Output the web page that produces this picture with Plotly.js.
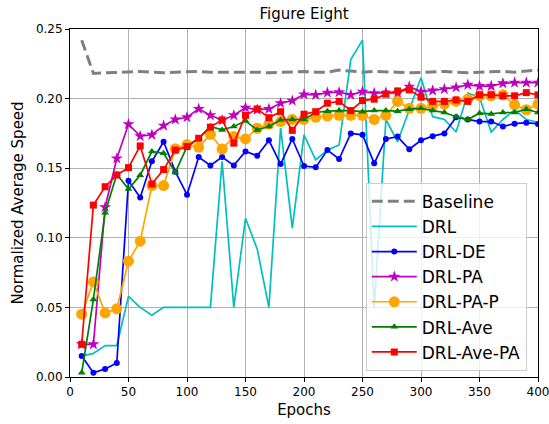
<!DOCTYPE html>
<html>
<head>
<meta charset="utf-8">
<script src="https://cdn.plot.ly/plotly-3.0.1.min.js"></script>
<style>
  html, body { margin: 0; padding: 0; background: #fff; }
  #chart { width: 549px; height: 424px; }
</style>
</head>
<body>
<div id="chart"></div>
<script>
const epochs = [10, 20, 30, 40, 50, 60, 70, 80, 90, 100,
  110, 120, 130, 140, 150, 160, 170, 180, 190, 200,
  210, 220, 230, 240, 250, 260, 270, 280, 290, 300,
  310, 320, 330, 340, 350, 360, 370, 380, 390, 400];

const baseline = [0.242, 0.218, 0.2185, 0.219, 0.219, 0.2195, 0.219, 0.2185, 0.219, 0.2195,
  0.2195, 0.219, 0.219, 0.219, 0.2195, 0.219, 0.2185, 0.219, 0.2195, 0.2195,
  0.219, 0.219, 0.2205, 0.2195, 0.219, 0.2195, 0.2195, 0.219, 0.2185, 0.219,
  0.219, 0.2195, 0.219, 0.2185, 0.219, 0.2195, 0.2195, 0.219, 0.2195, 0.2205];

const drl = [0.015, 0.017, 0.0226, 0.0226, 0.058, 0.050, 0.0444, 0.050, 0.050, 0.050,
  0.050, 0.050, 0.155, 0.050, 0.114, 0.092, 0.050, 0.179, 0.107, 0.174,
  0.156, 0.163, 0.1667, 0.228, 0.242, 0.050, 0.185, 0.169, 0.192, 0.215,
  0.187, 0.185, 0.176, 0.204, 0.201, 0.176, 0.185, 0.192, 0.185, 0.183];

const drlDE = [0.0151, 0.003, 0.0058, 0.010, 0.141, 0.129, 0.155, 0.169, 0.1475, 0.131,
  0.158, 0.152, 0.158, 0.152, 0.162, 0.159, 0.170, 0.153, 0.171, 0.1516,
  0.1506, 0.163, 0.1566, 0.175, 0.174, 0.1535, 0.171, 0.1727, 0.1636, 0.170,
  0.173, 0.175, 0.1866, 0.185, 0.1835, 0.1835, 0.180, 0.182, 0.1827, 0.1818];

const drlPA = [0.0235, 0.0235, 0.122, 0.157, 0.1816, 0.173, 0.174, 0.1806, 0.185, 0.1866,
  0.1926, 0.188, 0.1845, 0.188, 0.1935, 0.192, 0.1926, 0.1967, 0.1985, 0.203,
  0.2027, 0.2043, 0.2046, 0.2027, 0.205, 0.2039, 0.2043, 0.204, 0.2086, 0.205,
  0.2058, 0.2068, 0.208, 0.2099, 0.209, 0.209, 0.211, 0.2115, 0.2115, 0.2115];

const drlPAP = [0.0451, 0.0683, 0.046, 0.049, 0.0832, 0.0976, 0.1375, 0.1375, 0.164, 0.167,
  0.165, 0.1744, 0.1638, 0.1727, 0.171, 0.1787, 0.1816, 0.1835, 0.185, 0.185,
  0.1866, 0.1875, 0.188, 0.188, 0.1880, 0.185, 0.188, 0.198, 0.193, 0.193,
  0.195, 0.196, 0.198, 0.1996, 0.202, 0.202, 0.2027, 0.1955, 0.192, 0.196];

const drlAve = [0.003, 0.0557, 0.118, 0.1456, 0.135, 0.145, 0.162, 0.1607, 0.147, 0.1655,
  0.1715, 0.18, 0.1775, 0.18, 0.184, 0.1775, 0.18, 0.1847, 0.185, 0.185,
  0.19, 0.191, 0.1914, 0.1914, 0.1906, 0.1914, 0.1914, 0.191, 0.1924, 0.193,
  0.1914, 0.19, 0.187, 0.185, 0.1895, 0.189, 0.19, 0.19, 0.1924, 0.19];

const drlAvePA = [0.0235, 0.1235, 0.1367, 0.1451, 0.1504, 0.166, 0.1386, 0.149, 0.163, 0.1655,
  0.1715, 0.1795, 0.1847, 0.168, 0.188, 0.1926, 0.1863, 0.1906, 0.1772, 0.1888,
  0.1906, 0.1967, 0.198, 0.1914, 0.1986, 0.1996, 0.2032, 0.2055, 0.2063, 0.201,
  0.198, 0.198, 0.199, 0.198, 0.2027, 0.2027, 0.202, 0.202, 0.2043, 0.2027];

const xTicks = [0, 50, 100, 150, 200, 250, 300, 350, 400];
const yTicks = [0.00, 0.05, 0.10, 0.15, 0.20, 0.25];
const yTickLabels = ["0.00", "0.05", "0.10", "0.15", "0.20", "0.25"];

const lw = 1.7;
const traces = [
  {name: "Baseline", y: baseline, mode: "lines", line: {color: "#808080", width: 3, dash: "11px,5px"}},
  {name: "DRL", y: drl, mode: "lines", line: {color: "#00bfbf", width: lw}},
  {name: "DRL-DE", y: drlDE, mode: "lines+markers", line: {color: "#0000ff", width: lw},
    marker: {symbol: "circle", size: 6, color: "#0000ff"}},
  {name: "DRL-PA", y: drlPA, mode: "lines+markers", line: {color: "#bf00bf", width: lw},
    marker: {symbol: "star", size: 9, color: "#bf00bf"}},
  {name: "DRL-PA-P", y: drlPAP, mode: "lines+markers", line: {color: "#ffa500", width: lw},
    marker: {symbol: "circle", size: 11, color: "#ffa500"}},
  {name: "DRL-Ave", y: drlAve, mode: "lines+markers", line: {color: "#008000", width: lw},
    marker: {symbol: "triangle-up", size: 7, color: "#008000"}},
  {name: "DRL-Ave-PA", y: drlAvePA, mode: "lines+markers", line: {color: "#ff0000", width: lw},
    marker: {symbol: "square", size: 7, color: "#ff0000"}}
].map((t, i) => Object.assign({x: epochs, type: "scatter", legendgroup: "g" + i}, t));

const font = "DejaVu Sans, sans-serif";
const layout = {
  width: 549, height: 424,
  margin: {l: 70, r: 11, t: 29, b: 47},
  paper_bgcolor: "#ffffff",
  plot_bgcolor: "#ffffff",
  font: {family: font, color: "#000000", size: 12},
  title: {text: "Figure Eight", font: {family: font, size: 15, color: "#000"},
    x: 0.5, xref: "paper", xanchor: "center", y: 0.967, yanchor: "middle"},
  xaxis: {
    range: [0, 400], tickvals: xTicks, ticktext: xTicks.map(String),
    showgrid: true, gridcolor: "#b0b0b0", gridwidth: 1,
    zeroline: false, showline: true, linecolor: "#000", linewidth: 1, mirror: true,
    ticks: "outside", ticklen: 4, tickcolor: "#000",
    ticklabeloverflow: "allow",
    tickfont: {family: font, size: 12},
    title: {text: "Epochs", font: {family: font, size: 15}, standoff: 6}
  },
  yaxis: {
    range: [0, 0.25], tickvals: yTicks, ticktext: yTickLabels,
    showgrid: true, gridcolor: "#b0b0b0", gridwidth: 1,
    zeroline: false, showline: true, linecolor: "#000", linewidth: 1, mirror: true,
    ticks: "outside", ticklen: 4, tickcolor: "#000",
    tickfont: {family: font, size: 12},
    title: {text: "Normalized Average Speed", font: {family: font, size: 15}, standoff: 8}
  },
  showlegend: true,
  legend: {
    x: 0.632, y: 0.558, xanchor: "left", yanchor: "top",
    bgcolor: "rgba(255,255,255,0.8)", bordercolor: "#cccccc", borderwidth: 1,
    font: {family: font, size: 17},
    itemwidth: 45,
    traceorder: "grouped", tracegroupgap: 0
  }
};

Plotly.newPlot("chart", traces, layout, {displayModeBar: false, staticPlot: true});
</script>
</body>
</html>
